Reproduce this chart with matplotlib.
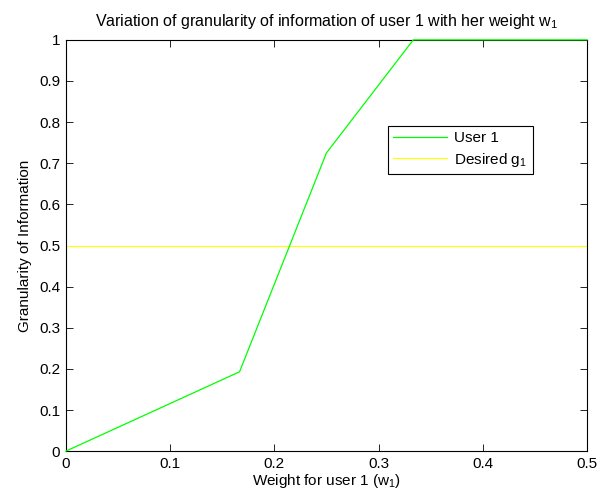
import numpy as np
import matplotlib.pyplot as plt

plt.rcParams['font.family'] = ['Liberation Sans', 'DejaVu Sans']
plt.rcParams['mathtext.fontset'] = 'custom'
plt.rcParams['mathtext.rm'] = 'Liberation Sans'
plt.rcParams['mathtext.it'] = 'Liberation Sans'

# data
w1 = [0.0, 1/6, 0.25, 1/3, 0.5]
gran = [0.0, 0.193, 0.725, 1.0, 1.0]
desired_g1 = 0.5
xticks = [0, 0.1, 0.2, 0.3, 0.4, 0.5]
yticks = np.round(np.arange(0, 1.01, 0.1), 1)

fig = plt.figure(figsize=(6.09, 4.98), dpi=100)
ax = fig.add_axes([0.108, 0.094, 0.856, 0.826])

ax.plot(w1, gran, color='#00ff00', lw=0.9, label='User 1', clip_on=False, zorder=3)
ax.axhline(desired_g1, color='#ffff00', lw=0.8, label='Desired g$_1$')

ax.set_xlim(0, 0.5)
ax.set_ylim(0, 1)
ax.set_xticks(xticks)
ax.set_xticklabels(['0', '0.1', '0.2', '0.3', '0.4', '0.5'])
ax.set_yticks(yticks)
ax.set_yticklabels(['0'] + [f'{v:.1f}' for v in yticks[1:-1]] + ['1'])
ax.tick_params(direction='in', top=True, right=True, length=5, labelsize=11, width=0.6, pad=4)
for s in ax.spines.values():
    s.set_linewidth(0.8)
    s.set_zorder(2)

ax.set_xlabel('Weight for user 1 (w$_1$)', fontsize=11, labelpad=1)
ax.set_ylabel('Granularity of Information', fontsize=11, labelpad=5)
ax.set_title('Variation of granularity of information of user 1 with her weight w$_1$', fontsize=11.5, pad=10)

leg = ax.legend(loc='upper left', bbox_to_anchor=(0.618, 0.791), fontsize=11, fancybox=False,
                framealpha=1, edgecolor='black', borderpad=0.35, handlelength=3.5, labelspacing=0.35,
                handletextpad=0.5, borderaxespad=0)
leg.get_frame().set_linewidth(0.8)

plt.savefig('out.png', dpi=100)
